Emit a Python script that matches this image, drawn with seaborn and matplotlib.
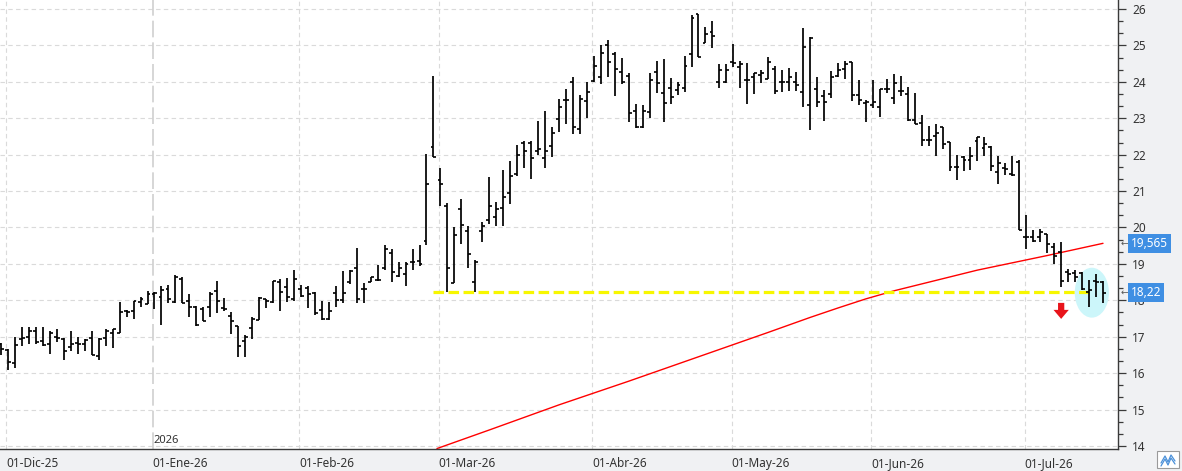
import matplotlib
matplotlib.use("Agg")
import matplotlib.pyplot as plt
from matplotlib.patches import Ellipse, Rectangle
from matplotlib.lines import Line2D
from matplotlib.ticker import MultipleLocator
import seaborn as sns
import numpy as np

sns.set_style("white")
plt.rcParams['font.family'] = ['Noto Sans', 'DejaVu Sans']

# daily OHLC, one bar per session (28-Nov-25 ... 16-Jul-26)
opens = [16.8, 16.64, 16.27, 16.94, 17.0, 17.15, 16.87, 16.8, 17.0, 16.94,
         16.73, 16.82, 16.8, 16.96, 16.47, 16.96, 17.09, 17.09, 17.7, 17.72,
         17.95, 17.9, 18.18, 18.09, 18.3, 17.95, 18.58, 17.98, 17.83, 17.76,
         17.83, 18.26, 17.78, 17.58, 17.3, 16.87, 17.24, 17.47, 18.03, 17.95,
         18.5, 18.36, 18.05, 18.3, 18.33, 18.2, 17.73, 17.5, 18.2, 18.0,
         18.5, 18.9, 18.3, 18.5, 18.55, 18.9, 19.3, 18.68, 18.72, 19.05,
         19.08, 19.63, 22.22, 21.3, 20.6, 18.48, 20.5, 19.9, 18.5, 19.89,
         20.2, 20.28, 20.53, 20.96, 21.48, 22.33, 22.33, 22.1, 21.9, 22.23,
         22.97, 23.49, 24.0, 22.7, 23.47, 24.01, 24.12, 25.0, 24.77, 24.28,
         24.16, 23.2, 22.75, 23.16, 24.26, 23.68, 23.82, 23.78, 23.82, 24.76,
         25.86, 25.06, 25.37, 23.99, 24.0, 24.54, 24.42, 24.05, 24.12, 24.19,
         24.08, 24.35, 24.0, 24.0, 24.0, 23.71, 23.36, 23.8, 23.6, 23.67,
         24.15, 24.36, 24.53, 23.65, 23.41, 23.35, 23.32, 23.8, 23.56, 23.76,
         23.67, 22.96, 22.86, 22.4, 22.5, 22.75, 22.36, 21.67, 21.93, 21.86,
         22.37, 22.18, 22.22, 21.51, 21.62, 21.47, 21.8, 19.73, 19.75, 19.73,
         19.81, 19.46, 19.32, 18.77, 18.74, 18.74, 18.22, 18.54, 18.5]
highs = [16.82, 16.66, 17.0, 17.28, 17.28, 17.28, 17.28, 17.15, 17.2, 16.96,
         17.17, 16.98, 16.94, 17.17, 16.96, 17.22, 17.22, 17.95, 17.73, 17.98,
         18.09, 18.25, 18.23, 18.4, 18.43, 18.7, 18.65, 18.18, 17.84, 17.83,
         18.23, 18.54, 18.07, 17.68, 17.3, 17.06, 17.54, 18.09, 18.05, 18.54,
         18.58, 18.61, 18.84, 18.42, 18.38, 18.23, 17.97, 17.95, 18.38, 18.8,
         18.84, 19.45, 18.47, 18.65, 18.97, 19.53, 19.41, 19.05, 19.05, 19.41,
         19.53, 22.03, 24.17, 21.63, 20.66, 20.0, 20.78, 20.05, 19.11, 20.16,
         21.39, 20.7, 21.57, 21.82, 22.26, 22.37, 22.37, 22.92, 23.2, 22.76,
         23.52, 23.8, 24.12, 23.64, 24.0, 24.71, 25.02, 25.15, 24.81, 24.65,
         24.24, 23.38, 23.36, 24.24, 24.58, 24.63, 24.1, 24.0, 24.71, 25.84,
         25.86, 25.5, 25.68, 24.48, 24.48, 25.03, 24.58, 24.51, 24.24, 24.33,
         24.68, 24.44, 24.33, 24.37, 24.28, 25.48, 25.23, 24.14, 23.78, 24.31,
         24.52, 24.57, 24.54, 24.06, 23.51, 24.04, 23.79, 24.08, 24.22, 24.15,
         23.87, 23.7, 23.1, 22.8, 22.83, 22.77, 22.36, 22.0, 21.97, 22.22,
         22.48, 22.48, 22.25, 21.97, 21.76, 21.97, 21.86, 20.33, 19.92, 19.96,
         19.83, 19.57, 19.6, 18.86, 18.82, 18.77, 18.56, 18.72, 18.54]
lows = [16.5, 16.08, 16.13, 16.74, 16.8, 16.8, 16.75, 16.52, 16.85, 16.35,
        16.6, 16.52, 16.6, 16.5, 16.37, 16.75, 16.68, 17.09, 17.55, 17.49,
        17.83, 17.9, 17.77, 17.32, 17.93, 17.94, 17.92, 17.55, 17.3, 17.42,
        17.55, 17.66, 17.72, 17.07, 16.44, 16.45, 16.94, 17.47, 17.8, 17.92,
        17.71, 17.96, 17.98, 18.09, 17.8, 17.59, 17.47, 17.45, 17.82, 17.93,
        18.44, 17.93, 17.93, 18.5, 18.53, 18.82, 18.5, 18.64, 18.38, 18.82,
        18.93, 19.51, 21.94, 20.6, 18.24, 18.48, 19.55, 18.9, 18.23, 19.61,
        20.09, 20.03, 20.05, 20.64, 21.41, 21.62, 21.33, 21.99, 21.62, 21.94,
        22.63, 22.83, 22.56, 22.56, 23.01, 24.0, 23.94, 24.14, 23.62, 23.93,
        22.9, 22.72, 22.74, 23.01, 23.68, 22.9, 23.38, 23.64, 23.73, 24.42,
        24.69, 25.06, 24.94, 23.82, 23.96, 24.42, 23.84, 23.38, 23.66, 23.96,
        24.08, 23.66, 23.71, 23.75, 23.75, 23.32, 22.69, 23.32, 22.93, 23.55,
        24.13, 24.07, 23.47, 23.37, 22.89, 23.28, 23.03, 23.7, 23.39, 23.62,
        22.92, 22.83, 22.23, 22.23, 21.95, 22.16, 21.56, 21.3, 21.56, 21.58,
        21.83, 21.97, 21.56, 21.19, 21.44, 21.42, 19.92, 19.41, 19.6, 19.6,
        19.29, 19.0, 18.36, 18.5, 18.5, 18.28, 17.82, 18.1, 17.92]
closes = [16.65, 16.31, 16.78, 16.96, 17.15, 16.85, 16.78, 17.1, 16.96, 16.6,
          16.8, 16.8, 16.9, 16.5, 16.94, 17.15, 17.22, 17.68, 17.68, 17.98,
          18.05, 18.17, 18.2, 18.28, 18.03, 18.65, 17.94, 17.81, 17.33, 17.44,
          18.17, 17.98, 17.75, 17.43, 16.75, 17.0, 17.5, 18.07, 17.98, 18.54,
          18.24, 18.08, 18.58, 18.12, 18.17, 17.65, 17.5, 17.7, 18.0, 18.2,
          18.8, 18.05, 18.3, 18.63, 18.56, 19.4, 18.79, 18.9, 19.0, 19.05,
          19.0, 21.2, 21.94, 21.2, 18.89, 19.78, 20.06, 19.27, 19.05, 20.03,
          20.6, 20.52, 20.85, 21.42, 21.98, 22.11, 21.9, 22.16, 22.1, 22.6,
          23.31, 23.5, 22.76, 23.52, 23.71, 24.44, 24.79, 24.53, 24.35, 24.0,
          23.13, 22.75, 23.2, 24.05, 23.96, 23.41, 23.57, 23.9, 24.44, 25.75,
          24.69, 25.32, 25.26, 24.33, 24.33, 24.51, 24.48, 24.05, 24.24, 24.24,
          24.54, 23.75, 24.0, 24.14, 23.91, 24.95, 25.2, 23.45, 23.45, 24.13,
          24.33, 24.48, 23.65, 23.49, 23.44, 23.44, 23.79, 23.8, 23.96, 23.74,
          22.94, 22.84, 22.41, 22.39, 22.59, 22.29, 21.65, 21.67, 21.86, 21.97,
          22.48, 22.28, 21.7, 21.76, 21.6, 21.44, 19.92, 19.73, 19.64, 19.87,
          19.55, 19.23, 18.54, 18.72, 18.63, 18.31, 18.27, 18.5, 18.19]

# red moving average, read at a few sessions
ma_bar = [62.5, 70, 80, 90, 100, 110, 116, 120, 124, 128, 132, 140, 150, 158]
ma_val = [13.93, 14.44, 15.13, 15.78, 16.45, 17.12, 17.53, 17.79, 18.04,
          18.26, 18.45, 18.83, 19.23, 19.565]

# support line (yellow) and price labels
support_level = 18.22
support_from, support_to = 62, 156.2
label_values = [19.565, 18.22]
label_texts = ["19,565", "18,22"]

month_labels = ["01-Dic-25", "01-Ene-26", "01-Feb-26", "01-Mar-26",
                "01-Abr-26", "01-May-26", "01-Jun-26", "01-Jul-26"]
month_first_bar = [1, 22, 43, 63, 85, 105, 125, 147]

W, H = 1182, 471
fig = plt.figure(figsize=(W / 100, H / 100), dpi=100, facecolor='#f0f1f3')
ax = fig.add_axes([0, 22 / H, 1118 / W, 449 / H])
ax.set_facecolor('white')
ax.set_xlim(-0.15, 160.15)
ax.set_ylim(13.918, 26.246)

tick_pos = [m - 0.25 for m in month_first_bar]

# grid
for v in range(14, 27):
    ax.axhline(v, color='#dadada', lw=0.8, ls=(0, (4, 3)), zorder=0)
for i, p in enumerate(tick_pos):
    if i == 1:
        ax.axvline(p, color='#cfcfcf', lw=1.2, ls=(0, (10, 3)), zorder=0)
    else:
        ax.axvline(p, color='#dadada', lw=0.8, ls=(0, (4, 3)), zorder=0)

# highlight ellipse around last sessions
ax.add_patch(Ellipse((156.4, 18.21), 4.9, 1.37, facecolor='#ccf6fa',
                     edgecolor='none', zorder=1))

# moving average
sns.lineplot(x=ma_bar, y=ma_val, color='red', linewidth=1.0, ax=ax,
             zorder=2, legend=False)

# support line
ax.hlines(support_level, support_from, support_to, colors='#f7f700',
          lw=2.3, linestyles=[(0, (3.3, 1.4))], zorder=2)

# OHLC bars
idx = np.arange(len(opens))
ax.vlines(idx, lows, highs, color='black', lw=1.25, zorder=3)
ax.hlines(opens, idx - 0.42, idx, color='black', lw=1.2, zorder=3)
ax.hlines(closes, idx, idx + 0.42, color='black', lw=1.2, zorder=3)

# red down arrow
ax.annotate('', xy=(152, 17.49), xytext=(152, 17.93),
            arrowprops=dict(arrowstyle='simple,head_length=0.65,head_width=1.1,tail_width=0.45',
                            fc='#e8141b', ec='none', mutation_scale=10,
                            shrinkA=0, shrinkB=0), zorder=4)

# axes styling
for s in ['left', 'top']:
    ax.spines[s].set_visible(False)
for s in ['right', 'bottom']:
    ax.spines[s].set_color('#3a3a3a')
    ax.spines[s].set_linewidth(1.0)

ax.yaxis.tick_right()
ax.yaxis.set_major_locator(MultipleLocator(1))
ax.yaxis.set_minor_locator(MultipleLocator(1 / 3))
ax.tick_params(axis='y', which='major', direction='out', length=6, width=0.9,
               color='#3a3a3a', labelsize=8.5, labelcolor='#333333', pad=4)
ax.tick_params(axis='y', which='minor', direction='out', length=3.5, width=0.9,
               color='#3a3a3a')
ax.set_yticks(range(14, 27))

ax.set_xticks(tick_pos)
ax.set_xticklabels(month_labels, ha='left')
ax.tick_params(axis='x', direction='out', length=6, width=0.9, color='#3a3a3a',
               labelsize=8.5, labelcolor='#333333', pad=0)

ax.text(tick_pos[1] + 0.15, 14.0, "2026", fontsize=8, color='#333333',
        va='bottom', ha='left')

# price labels on the right scale
for v, t in zip(label_values, label_texts):
    ax.annotate(t, xy=(1, v), xycoords=('axes fraction', 'data'),
                xytext=(13, 0), textcoords='offset pixels', ha='left',
                va='center', fontsize=8.5, color='white', zorder=6,
                annotation_clip=False,
                bbox=dict(boxstyle='square,pad=0.25', fc='#3f8fe3', ec='none'))
    ax.annotate("←", xy=(1, v), xycoords=('axes fraction', 'data'),
                xytext=(3, 0), textcoords='offset pixels', ha='left',
                va='center', fontsize=6.5, color='#555555', zorder=6,
                annotation_clip=False)

# small icon in the bottom-right corner
fig.patches.append(Rectangle((1157 / W, 3 / H), 22 / W, 17 / H, transform=fig.transFigure,
                             facecolor='white', edgecolor='#9a9a9a', lw=0.8))
zx = np.array([1161, 1165, 1168, 1171, 1175]) / W
zy1 = (H - np.array([463, 456, 462, 455, 461])) / H
zy2 = (H - np.array([466, 459, 465, 458, 464])) / H
fig.lines.append(Line2D(zx, zy1, transform=fig.transFigure, color='#4a90d9', lw=0.9))
fig.lines.append(Line2D(zx, zy2, transform=fig.transFigure, color='#4a90d9', lw=0.9))

fig.savefig("out.png", dpi=100, facecolor=fig.get_facecolor())
